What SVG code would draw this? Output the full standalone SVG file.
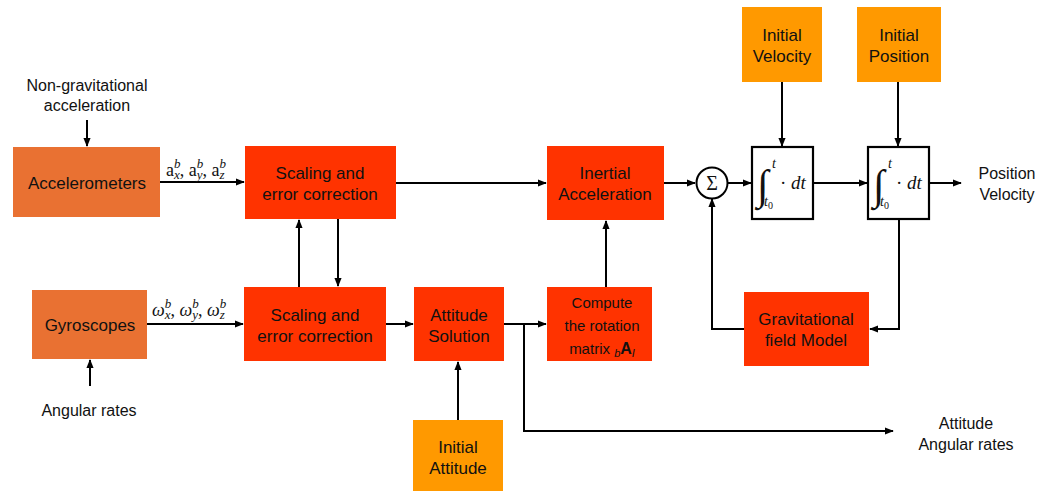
<svg xmlns="http://www.w3.org/2000/svg" width="1054" height="491" viewBox="0 0 1054 491">
  <defs>
    <marker id="arr" viewBox="0 0 10 10" refX="9" refY="5" markerWidth="9" markerHeight="9" markerUnits="userSpaceOnUse" orient="auto">
      <path d="M0,1 L10,5 L0,9 Z" fill="#000"/>
    </marker>
    <style>
      .sensor { fill: #E97132; }
      .proc { fill: #FF3300; }
      .init { fill: #FF9900; }
      .integ { fill: #fff; stroke: #000; stroke-width: 2.2; }
      .lbl { font-family: "Liberation Sans", Arial, sans-serif; font-size: 17px; fill: #111; text-anchor: middle; }
      .ext { font-family: "Liberation Sans", Arial, sans-serif; font-size: 16px; fill: #111; text-anchor: middle; }
      .small { font-size: 15px; }
      .math { font-family: "Liberation Serif", "DejaVu Serif", serif; fill: #111; }
      .it { font-style: italic; }
      .wire { fill: none; stroke: #000; stroke-width: 2; }
      .wire.a { marker-end: url(#arr); }
    </style>
  </defs>

  <!-- connectors -->
  <g id="connectors">
    <path class="wire a" d="M87,120 V146"/>
    <path class="wire a" d="M160,182 H244"/>
    <path class="wire a" d="M396,183 H546"/>
    <path class="wire a" d="M664,183 H695"/>
    <path class="wire a" d="M728,183 H751"/>
    <path class="wire a" d="M813,183 H867"/>
    <path class="wire a" d="M929,183 H961"/>
    <path class="wire a" d="M782,82 V146"/>
    <path class="wire a" d="M898,82 V146"/>
    <path class="wire a" d="M899,219 V329 H870"/>
    <path class="wire a" d="M744,329 H712 V199"/>
    <path class="wire a" d="M299,287 V220"/>
    <path class="wire a" d="M338,219 V286"/>
    <path class="wire a" d="M147,324 H243"/>
    <path class="wire a" d="M90,386 V360"/>
    <path class="wire a" d="M386,324 H413"/>
    <path class="wire a" d="M504,324 H546"/>
    <path class="wire" d="M524,324 V431"/>
    <path class="wire a" d="M523,431 H893"/>
    <path class="wire a" d="M458,420 V362"/>
    <path class="wire a" d="M606,287 V221"/>
  </g>

  <!-- outside labels -->
  <g id="in-nongrav">
    <text class="ext" x="87" y="91">Non-gravitational</text>
    <text class="ext" x="87" y="111">acceleration</text>
  </g>
  <g id="in-angular">
    <text class="ext" x="89" y="416">Angular rates</text>
  </g>
  <g id="out-posvel">
    <text class="ext" x="1007" y="179">Position</text>
    <text class="ext" x="1007" y="200">Velocity</text>
  </g>
  <g id="out-attitude">
    <text class="ext" x="966" y="429">Attitude</text>
    <text class="ext" x="966" y="450">Angular rates</text>
  </g>

  <!-- signal labels -->
  <g id="lbl-accel" class="math" font-size="18">
    <text x="166" y="176">a<tspan class="it" font-size="13" dy="-8">b</tspan><tspan class="it" font-size="13" dx="-6.5" dy="11">x</tspan><tspan dy="-3">, a</tspan><tspan class="it" font-size="13" dy="-8">b</tspan><tspan class="it" font-size="13" dx="-6.5" dy="11">y</tspan><tspan dy="-3">, a</tspan><tspan class="it" font-size="13" dy="-8">b</tspan><tspan class="it" font-size="13" dx="-6.5" dy="11">z</tspan></text>
  </g>
  <g id="lbl-gyro" class="math" font-size="18">
    <text x="152" y="316"><tspan class="it">ω</tspan><tspan class="it" font-size="13" dy="-8">b</tspan><tspan class="it" font-size="13" dx="-6.5" dy="11">x</tspan><tspan dy="-3">, </tspan><tspan class="it">ω</tspan><tspan class="it" font-size="13" dy="-8">b</tspan><tspan class="it" font-size="13" dx="-6.5" dy="11">y</tspan><tspan dy="-3">, </tspan><tspan class="it">ω</tspan><tspan class="it" font-size="13" dy="-8">b</tspan><tspan class="it" font-size="13" dx="-6.5" dy="11">z</tspan></text>
  </g>

  <!-- sensors -->
  <g id="accelerometers">
    <rect class="sensor" x="13" y="147" width="147" height="70"/>
    <text class="lbl" x="87" y="189">Accelerometers</text>
  </g>
  <g id="gyroscopes">
    <rect class="sensor" x="32" y="290" width="115" height="69"/>
    <text class="lbl" x="90" y="331">Gyroscopes</text>
  </g>

  <!-- processing blocks -->
  <g id="scaling-accel">
    <rect class="proc" x="245" y="146" width="151" height="73"/>
    <text class="lbl" x="320" y="179">Scaling and</text>
    <text class="lbl" x="320" y="200">error correction</text>
  </g>
  <g id="scaling-gyro">
    <rect class="proc" x="244" y="287" width="142" height="74"/>
    <text class="lbl" x="315" y="321">Scaling and</text>
    <text class="lbl" x="315" y="342">error correction</text>
  </g>
  <g id="attitude-solution">
    <rect class="proc" x="414" y="287" width="90" height="74"/>
    <text class="lbl" x="459" y="321">Attitude</text>
    <text class="lbl" x="459" y="342">Solution</text>
  </g>
  <g id="rotation-matrix">
    <rect class="proc" x="547" y="287" width="105" height="74"/>
    <text class="lbl small" x="602" y="308">Compute</text>
    <text class="lbl small" x="602" y="331">the rotation</text>
    <text class="lbl small" x="602" y="354">matrix <tspan class="it" font-size="11" dy="3">b</tspan><tspan font-weight="bold" font-size="16" dy="-3">A</tspan><tspan class="it" font-size="11" dy="3">I</tspan></text>
  </g>
  <g id="inertial-acceleration">
    <rect class="proc" x="547" y="146" width="117" height="74"/>
    <text class="lbl" x="605" y="179">Inertial</text>
    <text class="lbl" x="605" y="200">Acceleration</text>
  </g>
  <g id="gravity-model">
    <rect class="proc" x="744" y="292" width="125" height="74"/>
    <text class="lbl" x="806" y="325">Gravitational</text>
    <text class="lbl" x="806" y="346">field Model</text>
  </g>

  <!-- initial conditions -->
  <g id="initial-velocity">
    <rect class="init" x="742" y="7" width="80" height="75"/>
    <text class="lbl" x="782" y="41">Initial</text>
    <text class="lbl" x="782" y="62">Velocity</text>
  </g>
  <g id="initial-position">
    <rect class="init" x="857" y="7" width="84" height="75"/>
    <text class="lbl" x="899" y="41">Initial</text>
    <text class="lbl" x="899" y="62">Position</text>
  </g>
  <g id="initial-attitude">
    <rect class="init" x="413" y="420" width="90" height="71"/>
    <text class="lbl" x="458" y="453">Initial</text>
    <text class="lbl" x="458" y="474">Attitude</text>
  </g>

  <!-- summing junction -->
  <g id="sum">
    <circle cx="712" cy="183" r="15.5" fill="#fff" stroke="#000" stroke-width="2"/>
    <text class="math" x="712" y="190" font-size="20" text-anchor="middle">Σ</text>
  </g>

  <!-- integrators -->
  <g id="integrator-velocity">
    <rect class="integ" x="752" y="147" width="61" height="72"/>
    <text class="math" x="757" y="199" font-size="42">∫</text>
    <text class="math it" x="772" y="168" font-size="14">t</text>
    <text class="math it" x="764" y="206" font-size="14">t<tspan font-style="normal" font-size="10" dy="3">0</tspan></text>
    <text class="math" x="780" y="189" font-size="19">· <tspan class="it">dt</tspan></text>
  </g>
  <g id="integrator-position">
    <rect class="integ" x="868" y="147" width="61" height="72"/>
    <text class="math" x="873" y="199" font-size="42">∫</text>
    <text class="math it" x="888" y="168" font-size="14">t</text>
    <text class="math it" x="880" y="206" font-size="14">t<tspan font-style="normal" font-size="10" dy="3">0</tspan></text>
    <text class="math" x="896" y="189" font-size="19">· <tspan class="it">dt</tspan></text>
  </g>
</svg>
